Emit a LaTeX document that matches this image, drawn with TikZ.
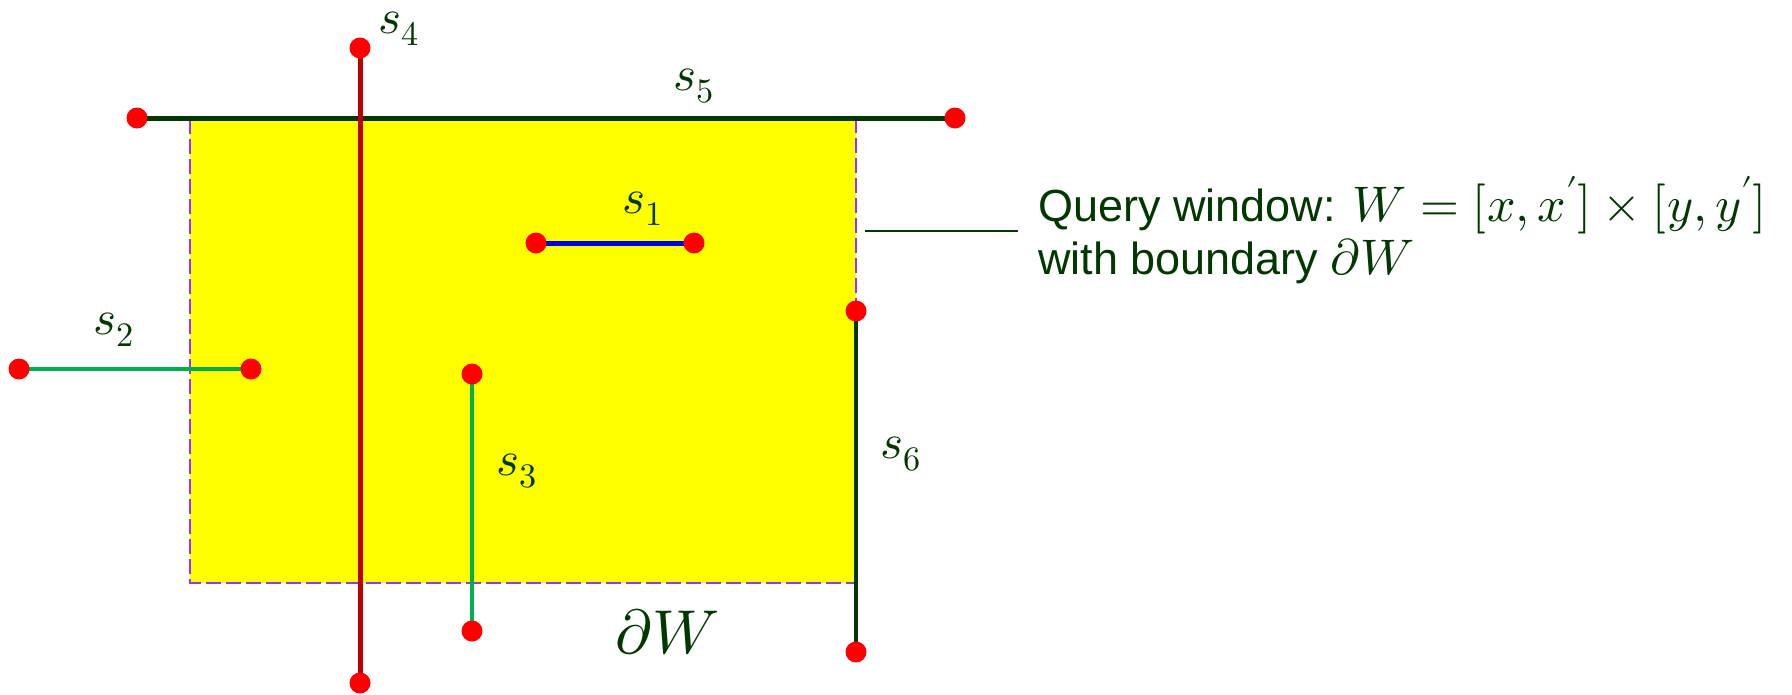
\documentclass[tikz,border=0pt]{standalone}
\usepackage{unicode-math}
\setmainfont{Liberation Sans}
\setmathfont{Latin Modern Math}
\definecolor{dkgreen}{RGB}{0,56,0}
\definecolor{segred}{RGB}{192,0,0}
\definecolor{segblue}{RGB}{0,0,230}
\definecolor{seggreen}{RGB}{0,176,80}
\definecolor{bordpurple}{RGB}{153,51,255}
\definecolor{dotred}{RGB}{255,0,0}
\definecolor{winyellow}{RGB}{255,255,0}
\newcommand{\bigmath}[1]{{\fontsize{50}{60}\selectfont$#1$}}
\begin{document}
\begin{tikzpicture}[x=1pt,y=-1pt,
  dotnode/.style={circle,fill=dotred,inner sep=0pt,minimum size=21pt},
  seglabel/.style={anchor=base west,inner sep=0pt,text=dkgreen,font=\fontsize{49}{56}\selectfont},
  qtext/.style={anchor=base west,inner sep=0pt,text=dkgreen,font=\fontsize{45}{54}\selectfont},
  segline/.style={line width=5pt},
  thinseg/.style={line width=4pt}]
\useasboundingbox (0,0) rectangle (1792,694);
% window
\fill[winyellow] (190,119) rectangle (856,583);
\draw[bordpurple,line width=1.5pt,dash pattern=on 15pt off 5pt] (190,119) -- (190,583) -- (856,583) -- (856,119);
% endpoints
\coordinate (s5a) at (137,118);
\coordinate (s5b) at (955,118);
\coordinate (s4a) at (360,48);
\coordinate (s4b) at (360,683);
\coordinate (s1a) at (536,243);
\coordinate (s1b) at (694,243);
\coordinate (s2a) at (19,369);
\coordinate (s2b) at (251,369);
\coordinate (s3a) at (472,374);
\coordinate (s3b) at (472,631);
\coordinate (s6a) at (856,311);
\coordinate (s6b) at (856,652);
% segments
\draw[segline,dkgreen] (s5a) -- (s5b);
\draw[segline,segred] (s4a) -- (s4b);
\draw[segline,segblue] (s1a) -- (s1b);
\draw[thinseg,seggreen] (s2a) -- (s2b);
\draw[thinseg,seggreen] (s3a) -- (s3b);
\draw[thinseg,dkgreen] (s6a) -- (s6b);
% dots
\foreach \p in {s5a,s5b,s4a,s4b,s1a,s1b,s2a,s2b,s3a,s3b,s6a,s6b}
  \node[dotnode] (d\p) at (\p) {};
% labels
\node[seglabel] (l1) at (622,213) {$s_1$};
\node[seglabel] (l2) at (93,334) {$s_2$};
\node[seglabel] (l3) at (496,475) {$s_3$};
\node[seglabel] (l4) at (378,33) {$s_4$};
\node[seglabel] (l5) at (673,90) {$s_5$};
\node[seglabel] (l6) at (880,458) {$s_6$};
\node[anchor=base west,inner sep=0pt,text=dkgreen,font=\fontsize{62}{70}\selectfont] (dw) at (615,653) {$\partial W$};
% query window text
\node[qtext] (q1) at (1038,221) {Query window: \bigmath{W=[x,x']\times[y,y']}};
\node[qtext] (q2) at (1038,274) {with boundary \bigmath{\partial W}};
\coordinate (leadA) at (865,231);
\coordinate (leadB) at (1018,231);
\draw[dkgreen,line width=1.5pt] (leadA) -- (leadB);
\end{tikzpicture}
\end{document}
